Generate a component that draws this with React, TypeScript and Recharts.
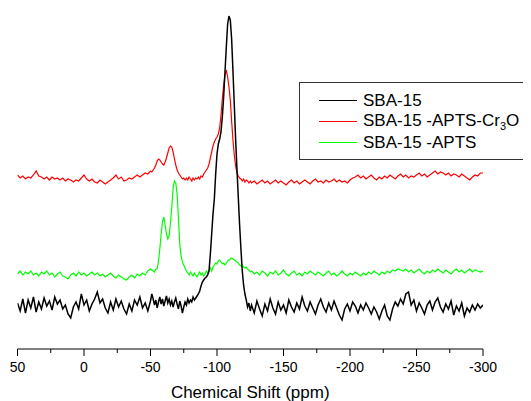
import React from 'react';
import { LineChart, Line, XAxis, YAxis, Legend } from 'recharts';

// chemical shift sampling points (ppm), finer around the Q-band peaks
const SHIFT = [
  50, 48, 46, 44, 42, 40, 38, 36, 34, 32, 30, 28, 26, 24, 22, 20, 18, 16, 14, 12, 10, 8, 6, 4, 2, 0,
  -2, -4, -6, -8, -10, -12, -14, -16, -18, -20, -22, -24, -26, -28, -30, -32, -34, -36, -38, -40, -42, -44, -46, -48, -50,
  -51, -52, -53, -54, -55, -56, -57, -58, -59, -60, -61, -62, -63, -64, -65, -66, -67, -68, -69, -70,
  -71, -72, -73, -74, -75, -76, -77, -78, -79, -80, -81, -82, -83, -84, -85, -86, -87, -88, -89, -90,
  -91, -92, -93, -94, -95, -96, -97, -98, -99, -100, -101, -102, -103, -104, -105, -106, -107, -108, -109, -110,
  -111, -112, -113, -114, -115, -116, -117, -118, -119, -120, -121, -122, -123, -124, -125,
  -126, -128, -130, -132, -134, -136, -138, -140, -142, -144, -146, -148, -150, -152, -154, -156, -158, -160, -162, -164,
  -166, -168, -170, -172, -174, -176, -178, -180, -182, -184, -186, -188, -190, -192, -194, -196, -198, -200, -202, -204,
  -206, -208, -210, -212, -214, -216, -218, -220, -222, -224, -226, -228, -230, -232, -234, -236, -238, -240, -242, -244,
  -246, -248, -250, -252, -254, -256, -258, -260, -262, -264, -266, -268, -270, -272, -274, -276, -278, -280, -282, -284,
  -286, -288, -290, -292, -294, -296, -298, -300,
];

// intensities (a.u., stacked offsets included)
const SBA15 = [
  46, 38, 50, 36, 49, 41, 52, 37, 47, 40, 51, 43, 48, 39, 52, 45, 49, 40, 44, 35, 31, 42, 47, 40, 55, 44,
  49, 38, 45, 50, 57, 46, 50, 41, 36, 47, 39, 50, 42, 48, 40, 35, 45, 38, 49, 44, 52, 41, 46, 38, 48,
  55, 50, 44, 49, 41, 47, 52, 45, 50, 43, 48, 53, 46, 50, 44, 48, 42, 47, 51, 45,
  40, 48, 43, 36, 42, 47, 44, 50, 46, 49, 47, 52, 49, 51, 53, 55, 58, 63, 67, 69,
  71, 72, 74, 78, 95, 115, 135, 150, 175, 195, 205, 210, 217, 232, 252, 277, 302, 325, 333, 329,
  310, 278, 244, 210, 180, 152, 124, 100, 78, 64, 55, 49, 42, 46, 38,
  44, 36, 48, 40, 33, 45, 38, 50, 41, 35, 47, 39, 44, 36, 49, 42, 37, 46, 40, 52,
  43, 38, 47, 41, 35, 44, 50, 42, 37, 46, 39, 48, 41, 34, 29, 40, 45, 38, 47, 43,
  36, 44, 39, 46, 41, 35, 42, 37, 30, 38, 44, 33, 29, 40, 47, 43, 50, 45, 55, 57,
  44, 49, 38, 46, 41, 35, 44, 48, 39, 47, 51, 42, 37, 45, 40, 48, 34, 43, 38, 46,
  33, 41, 37, 44, 39, 45, 41, 44,
];

const SBA15_APTS_CR = [
  174, 171, 173, 170, 172, 171, 174, 178, 173, 172, 170, 172, 169, 172, 170, 171, 169, 171, 168, 170, 169, 167, 169, 168, 171, 174,
  170, 168, 170, 167, 166, 169, 167, 165, 167, 169, 171, 174, 170, 172, 168, 169, 171, 170, 172, 174, 172, 174, 176, 175, 178,
  177, 179, 181, 184, 188, 190, 189, 187, 185, 184, 187, 191, 196, 201, 203, 202, 197, 190, 184, 179,
  176, 174, 172, 170, 171, 169, 171, 169, 172, 170, 168, 171, 169, 171, 170, 172, 170, 173, 172, 175,
  177, 179, 181, 185, 191, 197, 203, 207, 210, 212, 215, 221, 234, 250, 264, 274, 279, 272, 262, 249,
  228, 209, 194, 183, 176, 173, 171, 170, 168, 170, 167, 169, 168, 166, 168,
  166, 168, 165, 167, 169, 166, 168, 165, 167, 169, 166, 168, 166, 164, 167, 169, 166, 168, 165, 167,
  169, 167, 165, 168, 170, 167, 168, 166, 169, 167, 168, 170, 167, 169, 167, 168, 166, 169, 171, 172,
  174, 171, 173, 170, 172, 174, 171, 169, 172, 170, 173, 171, 174, 172, 170, 173, 175, 172, 174, 171,
  173, 172, 174, 176, 173, 175, 172, 174, 176, 178, 175, 177, 176, 174, 176, 173, 175, 174, 172, 175,
  173, 171, 169, 172, 174, 173, 176, 176,
];

const SBA15_APTS = [
  75, 78, 74, 77, 75, 78, 74, 76, 73, 77, 75, 78, 74, 76, 72, 75, 77, 73, 72, 70, 74, 76, 73, 77, 74, 76,
  73, 75, 77, 74, 76, 73, 75, 72, 74, 76, 73, 71, 74, 72, 70, 69, 72, 74, 71, 75, 73, 76, 74, 78, 80,
  79, 78, 77, 80, 80, 88, 100, 115, 127, 132, 124, 115, 110, 113, 126, 142, 161, 168, 166, 155,
  131, 105, 93, 87, 84, 81, 78, 76, 74, 77, 75, 73, 76, 74, 72, 75, 77, 74, 76, 73,
  75, 78, 76, 79, 81, 78, 82, 84, 86, 85, 88, 89, 87, 85, 86, 84, 86, 88, 89, 90,
  91, 90, 89, 88, 87, 86, 84, 83, 84, 82, 81, 82, 80, 79, 77,
  78, 75, 77, 74, 78, 76, 73, 77, 75, 78, 74, 76, 79, 75, 73, 76, 78, 74, 76, 73,
  77, 75, 78, 76, 74, 77, 75, 73, 76, 78, 74, 76, 73, 75, 78, 75, 73, 76, 74, 77,
  75, 73, 76, 74, 77, 75, 78, 76, 74, 77, 75, 78, 76, 79, 78, 80, 79, 78, 80, 77,
  79, 76, 78, 80, 77, 75, 78, 76, 79, 77, 80, 78, 76, 79, 77, 75, 78, 80, 77, 79,
  76, 78, 80, 77, 79, 78, 77, 78,
];

const SHIFT_TICKS = [50, 25, 0, -25, -50, -75, -100, -125, -150, -175, -200, -225, -250, -275, -300];

const SERIES = [
  { key: 'sba', name: 'SBA-15', color: '#000000', width: 1.5 },
  { key: 'cr', name: 'SBA-15 -APTS-Cr3O', color: '#ff0000', width: 1.2 },
  { key: 'apts', name: 'SBA-15 -APTS', color: '#00ff00', width: 1.2 },
];

const data = SHIFT.map((s, i) => ({
  shift: s,
  sba: SBA15[i],
  cr: SBA15_APTS_CR[i],
  apts: SBA15_APTS[i],
}));

const FONT = '"Liberation Sans", Arial, sans-serif';

const ShiftTick = (props: any) => {
  const { x, y, payload } = props;
  const major = payload.value % 50 === 0;
  return (
    <g>
      <line x1={x} y1={y} x2={x} y2={y + (major ? 7 : 4)} stroke="#000" strokeWidth={1} />
      {major && (
        <text x={x} y={y + 13} dy="0.71em" textAnchor="middle" fontSize={14} fill="#000" fontFamily={FONT}>
          {payload.value}
        </text>
      )}
    </g>
  );
};

const LegendBox = () => (
  <div
    style={{
      boxSizing: 'border-box',
      width: 229,
      height: 78,
      border: '1px solid #333',
      background: '#fff',
      fontFamily: FONT,
      fontSize: 17,
      color: '#000',
      paddingTop: 7,
    }}
  >
    {SERIES.map((s) => (
      <div key={s.key} style={{ display: 'flex', alignItems: 'center', height: 21 }}>
        <span style={{ display: 'inline-block', marginLeft: 19, width: 38, height: 0, borderTop: `1px solid ${s.color}` }} />
        <span style={{ marginLeft: 6, whiteSpace: 'nowrap' }}>
          {s.key === 'cr' ? (
            <>
              SBA-15 -APTS-Cr<sub style={{ fontSize: 11, verticalAlign: -4 }}>3</sub>O
            </>
          ) : (
            s.name
          )}
        </span>
      </div>
    ))}
  </div>
);

export default function App() {
  return (
    <div style={{ width: 523, height: 393, fontFamily: FONT }}>
      <LineChart width={523} height={393} data={data} margin={{ top: 0, right: 48, bottom: 0, left: 9.5 }}>
        <XAxis
          dataKey="shift"
          type="number"
          domain={[-300, 50]}
          reversed
          ticks={SHIFT_TICKS}
          interval={0}
          allowDataOverflow
          height={52}
          tickSize={0}
          tickMargin={0}
          tickLine={false}
          tick={<ShiftTick />}
          axisLine={{ stroke: '#000', strokeWidth: 1 }}
          label={{ value: 'Chemical Shift (ppm)', position: 'insideBottom', offset: 2.7, fontSize: 17, fill: '#000', fontFamily: FONT }}
        />
        <YAxis hide type="number" domain={[0, 341]} allowDataOverflow />
        <Legend
          layout="vertical"
          align="center"
          verticalAlign="middle"
          content={<LegendBox />}
          wrapperStyle={{ left: 291, top: 74, width: 229, height: 78 }}
        />
        {SERIES.slice().reverse().map((s) => (
          <Line
            key={s.key}
            type="linear"
            dataKey={s.key}
            name={s.name}
            stroke={s.color}
            strokeWidth={s.width}
            dot={false}
            activeDot={false}
            isAnimationActive={false}
          />
        ))}
      </LineChart>
    </div>
  );
}
